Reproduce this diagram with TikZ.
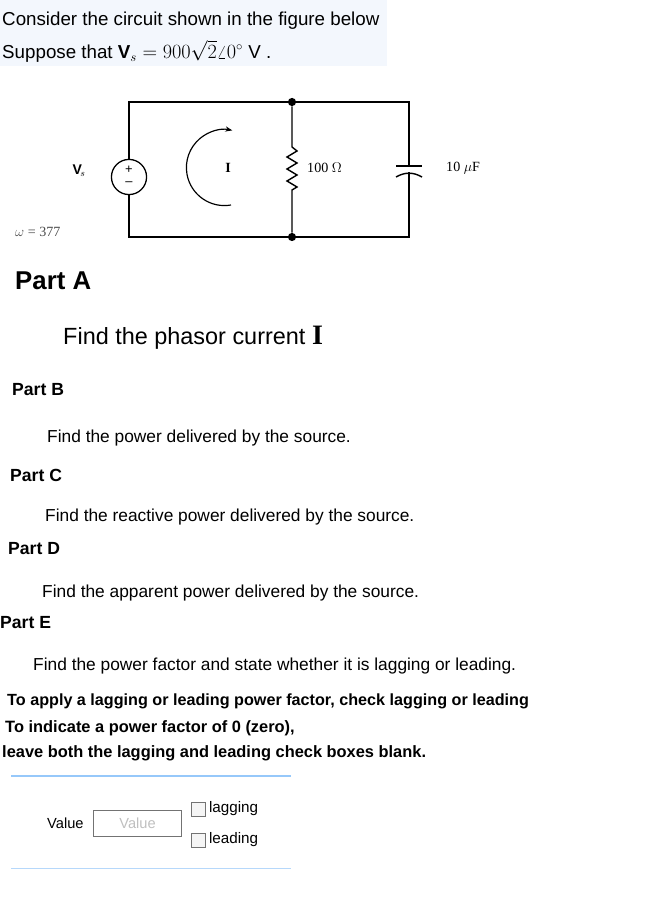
\documentclass[tikz,border=0pt]{standalone}
\usepackage{fontspec}
\setmainfont{Liberation Sans}
\newfontfamily\circfont{Liberation Serif}
\usetikzlibrary{positioning, calc}
\usetikzlibrary{arrows.meta}
\definecolor{headbg}{RGB}{243,247,253}
\definecolor{rulecol}{RGB}{150,200,250}
\tikzstyle{plaintext}=[inner sep=0pt,anchor=west,font=\fontsize{14.8}{17}\selectfont]
\tikzstyle{parttitle}=[inner sep=0pt,anchor=west,font=\bfseries\fontsize{15}{17}\selectfont]
\tikzstyle{boldtext}=[inner sep=0pt,anchor=west,font=\bfseries\fontsize{14}{16}\selectfont]
\tikzstyle{circtext}=[inner sep=0pt,font=\circfont\fontsize{12}{14}\selectfont]
\tikzstyle{wire}=[line width=1.2pt]
\tikzstyle{junction}=[circle,fill=black,inner sep=0pt,minimum size=7pt]
\tikzstyle{checkbox}=[rectangle,draw=black!55,fill=black!4,minimum size=12pt,inner sep=0pt]
\begin{document}
\begin{tikzpicture}[x=0.03cm,y=-0.03cm]
    \useasboundingbox (0,0) rectangle (653,907);
    % header
    \fill[headbg] (0,0) rectangle (387,66);
    \node[plaintext, font=\fontsize{16}{18}\selectfont] (intro1) at (2,21) {Consider the circuit shown in the figure below};
    \node[plaintext, font=\fontsize{16}{18}\selectfont] (intro2) at (2,51) {Suppose that $\mathbf{V}_s = 900\sqrt{2}\angle 0^\circ\ \mathrm{V}$ .};

    % circuit
    \coordinate (tl) at (129,102);
    \coordinate (tr) at (409,102);
    \coordinate (bl) at (129,237);
    \coordinate (br) at (409,237);
    \node[junction] (jtop) at (292,102) {};
    \node[junction] (jbot) at (292,237) {};
    \node[circle,draw,line width=1.1pt,minimum size=30pt,inner sep=0pt] (src) at (129,177) {};
    \node[font=\fontsize{11}{11}\selectfont] at ($(src)+(0,-7)$) {+};
    \node[font=\fontsize{11}{11}\selectfont] at ($(src)+(0,7)$) {--};
    \draw[wire] (src.north) -- (tl) -- (jtop) -- (tr) -- (409,166);
    \draw[wire] (src.south) -- (bl) -- (jbot) -- (br) -- (409,172);
    % resistor
    \draw[wire] (jtop) -- (292,147) -- (297,151) -- (287,157) -- (297,163) -- (287,169)
        -- (297,175) -- (287,181) -- (297,187) -- (292,190) -- (jbot);
    % capacitor
    \draw[wire] (396,166) -- (422,166);
    \draw[wire] (396,177) to[bend left=30] (422,177);
    % current arrow
    \draw[line width=1pt,-{Stealth[length=6pt]}] (231,205) arc[start angle=80,end angle=282,radius=38];
    \node[circtext] (vs) at (79,171) {$\mathbf{V}_{\!s}$};
    \node[circtext] (cur) at (228,168) {\textbf{I}};
    \node[circtext, anchor=west] (res) at (307,168) {100 $\Omega$};
    \node[circtext, anchor=west] (cap) at (446,168) {10 $\mu$F};
    \node[circtext, anchor=west, text=black!70] (omega) at (15,232) {$\omega$ = 377};

    % parts
    \node[parttitle, font=\bfseries\fontsize{22}{24}\selectfont] (partA) at (15,281) {Part A};
    \node[plaintext, font=\fontsize{20}{22}\selectfont] (qA) at (63,338) {Find the phasor current \textbf{\fontsize{24}{24}\selectfont\circfont I}};
    \node[parttitle] (partB) at (12,390) {Part B};
    \node[plaintext] (qB) at (47,438) {Find the power delivered by the source.};
    \node[parttitle] (partC) at (10,475) {Part C};
    \node[plaintext] (qC) at (45,517) {Find the reactive power delivered by the source.};
    \node[parttitle] (partD) at (8,549) {Part D};
    \node[plaintext] (qD) at (42,593) {Find the apparent power delivered by the source.};
    \node[parttitle] (partE) at (0,623) {Part E};
    \node[plaintext] (qE) at (33,666) {Find the power factor and state whether it is lagging or leading.};
    \node[boldtext, font=\bfseries\fontsize{13.8}{16}\selectfont] (note1) at (7,701) {To apply a lagging or leading power factor, check lagging or leading};
    \node[boldtext] (note2) at (5,728) {To indicate a power factor of 0 (zero),};
    \node[boldtext] (note3) at (2,753) {leave both the lagging and leading check boxes blank.};

    % answer area
    \draw[rulecol, line width=1.6pt] (11,776) -- (291,776);
    \draw[rulecol!70, line width=0.8pt] (11,868) -- (291,868);
    \node[plaintext, font=\fontsize{12.5}{14}\selectfont] (vlabel) at (47,823) {Value};
    \node[draw=black!55,line width=0.7pt,minimum width=75pt,minimum height=22pt,
        text=black!25,font=\fontsize{12.5}{14}\selectfont] (vbox) at (137.5,823.5) {Value};
    \node[checkbox] (cblag) at (198,809) {};
    \node[checkbox] (cblead) at (198,840) {};
    \node[plaintext, right=3pt of cblag, font=\fontsize{13}{15}\selectfont] (lag) {lagging};
    \node[plaintext, right=3pt of cblead, font=\fontsize{13}{15}\selectfont] (lead) {leading};
\end{tikzpicture}
\end{document}
